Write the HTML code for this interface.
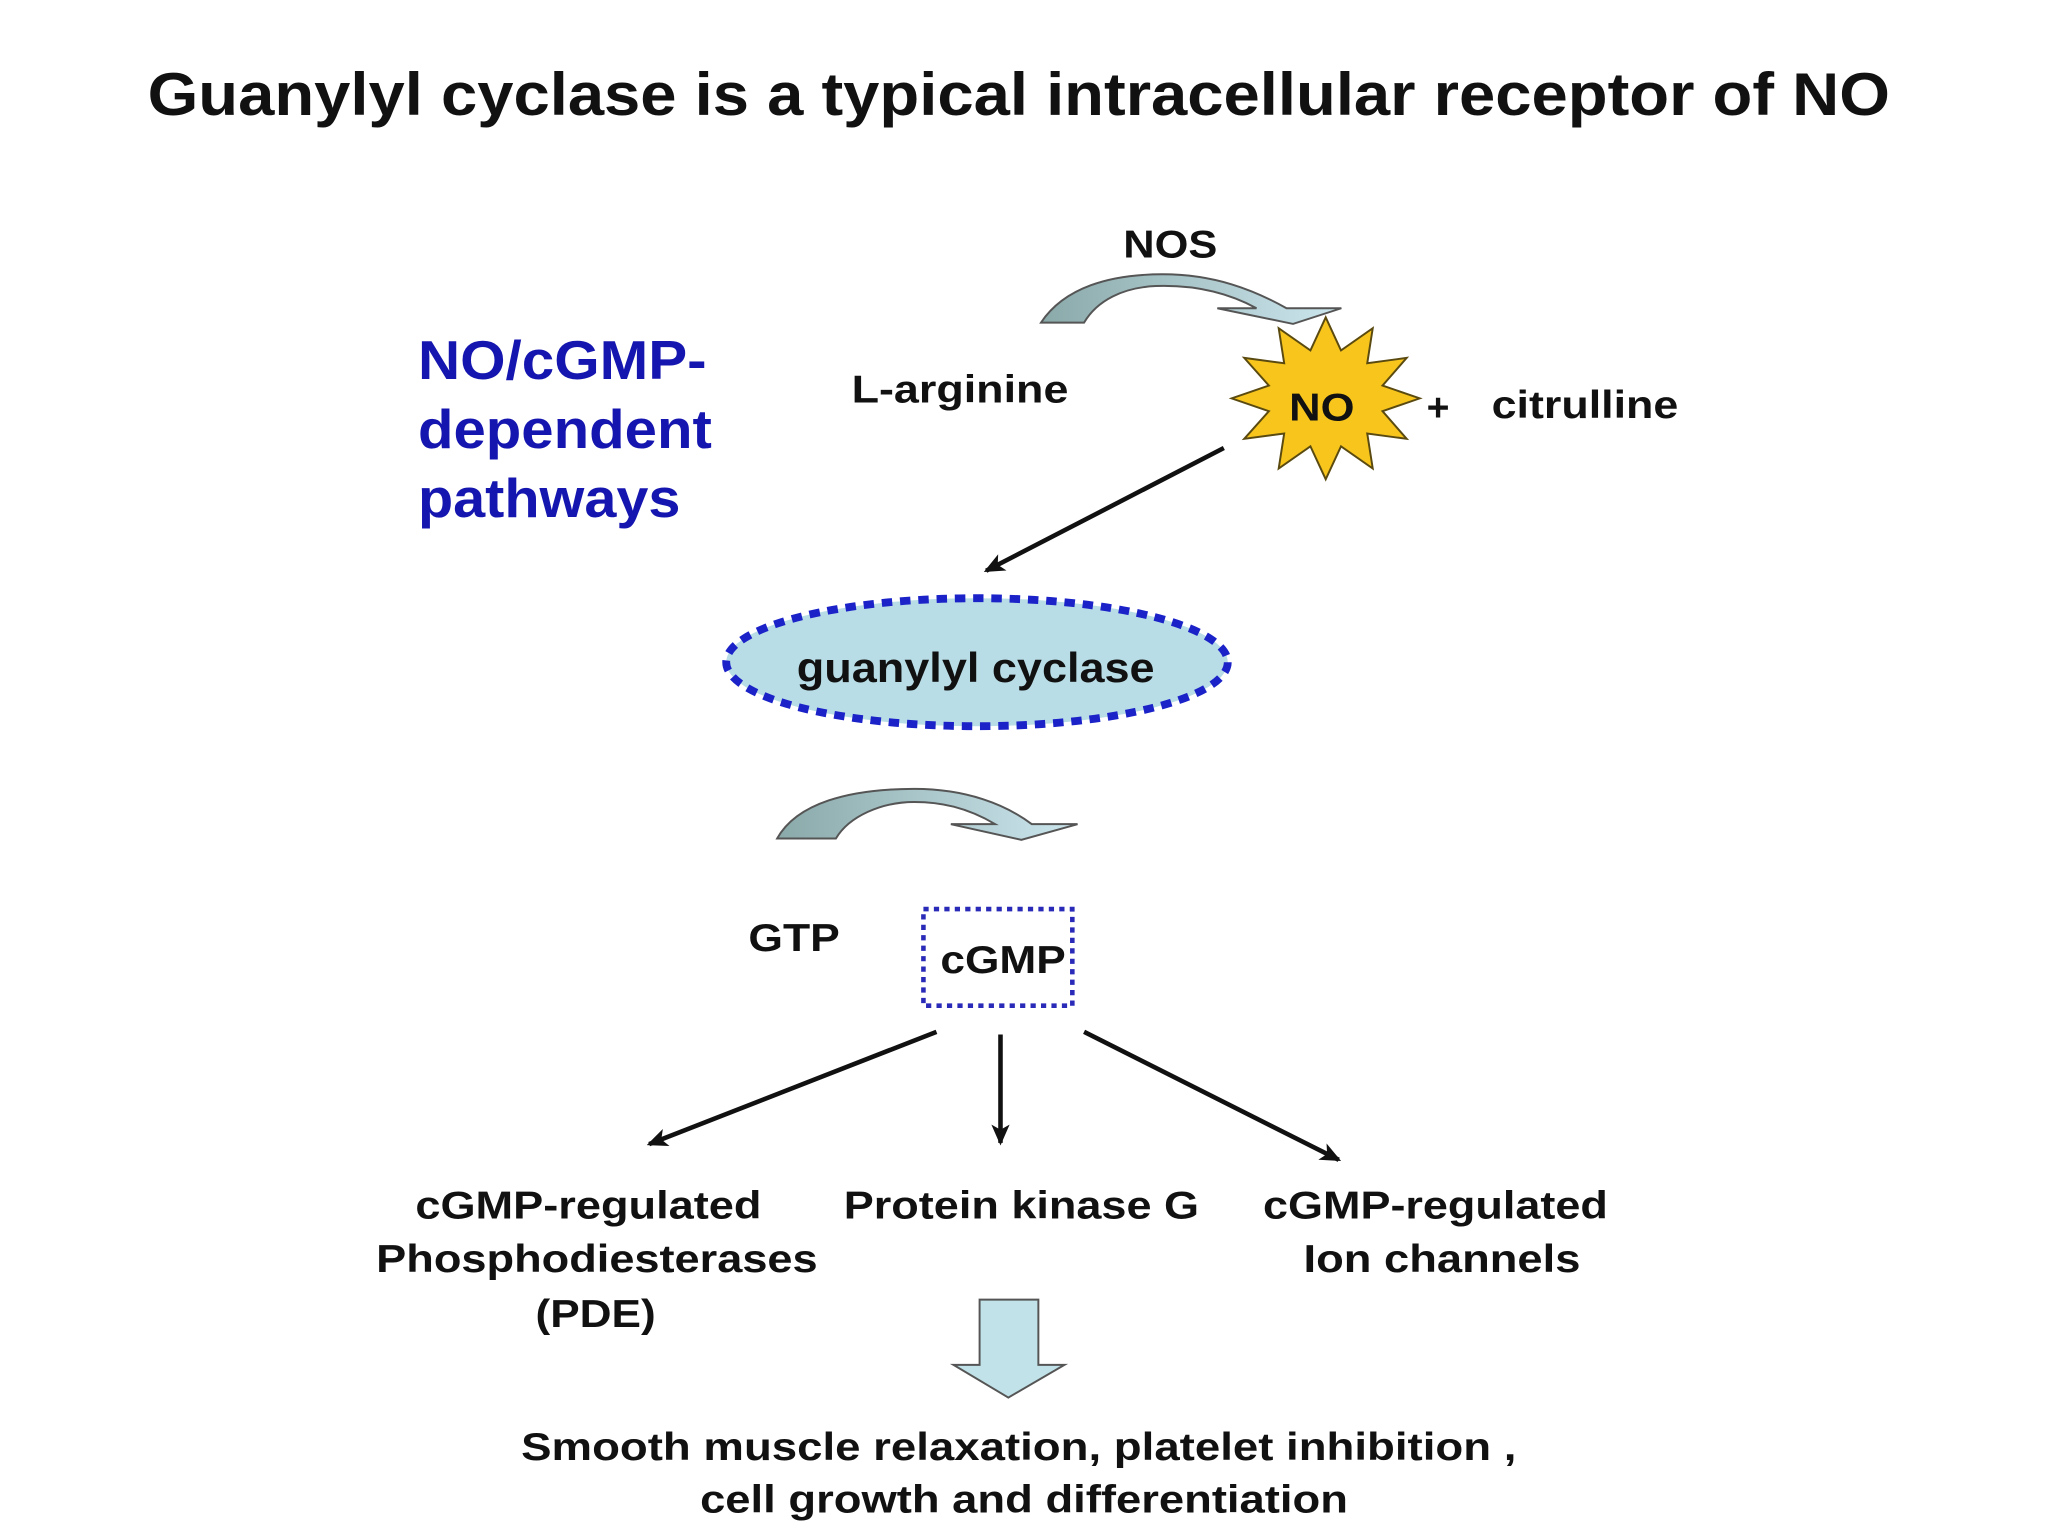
<!DOCTYPE html>
<html><head><meta charset="utf-8"><style>
html,body{margin:0;padding:0;background:#fff;}
svg{display:block;}
text{font-family:"Liberation Sans",Arial,sans-serif;font-weight:bold;fill:#111;}
</style></head><body>
<svg width="2048" height="1536" viewBox="0 0 1568 1176" xmlns="http://www.w3.org/2000/svg">
<defs>
<marker id="ah" markerWidth="16" markerHeight="14" refX="14" refY="7" orient="auto" markerUnits="userSpaceOnUse">
<path d="M0,0 L16,7 L0,14 L4,7 Z" fill="#111"/>
</marker>
<linearGradient id="cg" x1="0" x2="1" y1="0" y2="0">
<stop offset="0" stop-color="#8aa9a9"/><stop offset="1" stop-color="#cce6ee"/>
</linearGradient>
</defs>
<rect width="1568" height="1176" fill="#fff"/>
<text x="113" y="88" font-size="46" textLength="1334" lengthAdjust="spacingAndGlyphs">Guanylyl cyclase is a typical intracellular receptor of NO</text>

<text x="860" y="197" font-size="30" textLength="72" lengthAdjust="spacingAndGlyphs">NOS</text>
<path d="M797,247 C815,220 850,210 890,210 C930,210 960,222 985,236 L1027,236 L990,248 L932,236 L962,236 C940,224 915,218 885,219 C860,220 840,230 830,247 Z" fill="url(#cg)" stroke="#555" stroke-width="1.5"/>

<text x="320" y="290" font-size="42" style="fill:#1515b0" textLength="221" lengthAdjust="spacingAndGlyphs">NO/cGMP-</text>
<text x="320" y="343" font-size="42" style="fill:#1515b0" textLength="225" lengthAdjust="spacingAndGlyphs">dependent</text>
<text x="320" y="396" font-size="42" style="fill:#1515b0" textLength="201" lengthAdjust="spacingAndGlyphs">pathways</text>

<text x="652" y="308" font-size="30" textLength="166" lengthAdjust="spacingAndGlyphs">L-arginine</text>
<polygon points="1087,305 1058.5,314.8 1077,336 1046.8,331.9 1051,358.7 1026.7,341.7 1015,367 1003.3,341.7 979,358.7 983.2,331.9 952.6,336 971.5,314.8 943,305 971.5,295.2 952.6,274 983.2,278.1 979,251.3 1003.3,268.3 1015,243 1026.7,268.3 1051,251.3 1046.8,278.1 1077,274 1058.5,295.2" fill="#f7c51c" stroke="#5a4a10" stroke-width="1.5"/>
<text x="987" y="322" font-size="30" textLength="50" lengthAdjust="spacingAndGlyphs">NO</text>
<text x="1101" y="322" font-size="30" text-anchor="middle">+</text>
<text x="1142" y="320" font-size="30" textLength="143" lengthAdjust="spacingAndGlyphs">citrulline</text>

<line x1="937" y1="343" x2="755" y2="437" stroke="#111" stroke-width="3.5" marker-end="url(#ah)"/>

<ellipse cx="748" cy="507" rx="192" ry="49" fill="#b9dde6" stroke="#1a22c8" stroke-width="6" stroke-dasharray="8,6"/>
<text x="610" y="522" font-size="32" textLength="274" lengthAdjust="spacingAndGlyphs">guanylyl cyclase</text>

<path d="M595,642 C610,615 650,604 700,604 C740,604 770,616 790,631 L825,631 L782,643 L728,631 L762,631 C740,618 720,614 700,614 C675,614 650,625 640,642 Z" fill="url(#cg)" stroke="#555" stroke-width="1.5"/>

<text x="573" y="728" font-size="30" textLength="70" lengthAdjust="spacingAndGlyphs">GTP</text>
<rect x="707" y="696" width="114" height="74" fill="#fff" stroke="#2a2ab8" stroke-width="3.5" stroke-dasharray="4,4"/>
<text x="720" y="745" font-size="30" textLength="96" lengthAdjust="spacingAndGlyphs">cGMP</text>

<line x1="717" y1="790" x2="497" y2="876" stroke="#111" stroke-width="3.5" marker-end="url(#ah)"/>
<line x1="766" y1="792" x2="766" y2="875" stroke="#111" stroke-width="3.5" marker-end="url(#ah)"/>
<line x1="830" y1="790" x2="1025" y2="888" stroke="#111" stroke-width="3.5" marker-end="url(#ah)"/>

<text x="318" y="933" font-size="30" textLength="265" lengthAdjust="spacingAndGlyphs">cGMP-regulated</text>
<text x="288" y="974" font-size="30" textLength="338" lengthAdjust="spacingAndGlyphs">Phosphodiesterases</text>
<text x="410" y="1016" font-size="30" textLength="92" lengthAdjust="spacingAndGlyphs">(PDE)</text>
<text x="646" y="933" font-size="30" textLength="272" lengthAdjust="spacingAndGlyphs">Protein kinase G</text>
<text x="967" y="933" font-size="30" textLength="264" lengthAdjust="spacingAndGlyphs">cGMP-regulated</text>
<text x="998" y="974" font-size="30" textLength="212" lengthAdjust="spacingAndGlyphs">Ion channels</text>

<path d="M750,995 L795,995 L795,1045 L815,1045 L772,1070 L730,1045 L750,1045 Z" fill="#c0e2e8" stroke="#555" stroke-width="1.5"/>

<text x="399" y="1118" font-size="30" textLength="762" lengthAdjust="spacingAndGlyphs">Smooth muscle relaxation, platelet inhibition ,</text>
<text x="536" y="1158" font-size="30" textLength="496" lengthAdjust="spacingAndGlyphs">cell growth and differentiation</text>
</svg>
</body></html>
